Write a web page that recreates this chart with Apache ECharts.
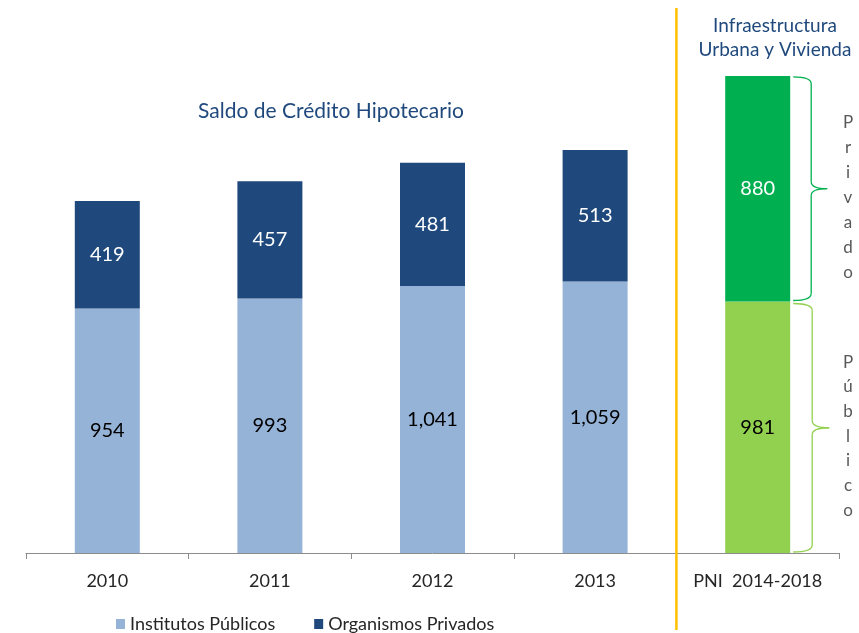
<!DOCTYPE html>
<html><head><meta charset="utf-8">
<script src="https://cdn.jsdelivr.net/npm/echarts@6/dist/echarts.min.js"></script>
<style>html,body{margin:0;padding:0;background:#fff}#c{width:859px;height:633px}</style>
</head><body><div id="c"></div>
<script>
const categories = ['2010', '2011', '2012', '2013', 'PNI  2014-2018'];
const institutosPublicos = [954, 993, 1041, 1059, '-'];
const organismosPrivados = [419, 457, 481, 513, '-'];
const pniPublico = ['-', '-', '-', '-', 981];
const pniPrivado = ['-', '-', '-', '-', 880];
const legendNames = ['Institutos Públicos', 'Organismos Privados'];
const braceLabels = ['Privado', 'Público'];

const FONT = "Lato, 'Liberation Sans', sans-serif";
const fmt = p => Number(p.value).toLocaleString('en-US');
function lbl(color) {
  return { show: true, position: 'inside', color: color, fontSize: 20, fontFamily: FONT, formatter: fmt };
}
const chart = echarts.init(document.getElementById('c'));
chart.setOption({
  animation: false,
  textStyle: { fontFamily: FONT },
  title: [
    { text: 'Saldo de Crédito Hipotecario', left: 326, top: 96, textAlign: 'center',
      textStyle: { color: '#1F497D', fontSize: 21, fontWeight: 'normal', fontFamily: FONT } },
    { text: 'Infraestructura\nUrbana y Vivienda', left: 770, top: 9, textAlign: 'center',
      textStyle: { color: '#1F497D', fontSize: 19, fontWeight: 'normal', fontFamily: FONT, lineHeight: 24 } }
  ],
  grid: { left: 26, right: 20, top: 10, bottom: 80 },
  legend: {
    data: legendNames, left: 111, top: 610, itemWidth: 9, itemHeight: 10, itemGap: 39,
    icon: 'rect', textStyle: { fontSize: 18, color: '#262626', fontFamily: FONT }
  },
  xAxis: {
    type: 'category', data: categories,
    axisLine: { lineStyle: { color: '#8C8C8C', width: 1 } },
    axisTick: { show: true, length: 6, lineStyle: { color: '#8C8C8C' } },
    axisLabel: { fontSize: 18, color: '#262626', margin: 19, fontFamily: FONT, interval: 0 }
  },
  yAxis: { type: 'value', min: 0, max: 2118, show: false, splitLine: { show: false } },
  series: [
    { name: legendNames[0], type: 'bar', stack: 's', barWidth: 65, data: institutosPublicos,
      itemStyle: { color: '#95B3D7' }, label: lbl('#000') },
    { name: legendNames[1], type: 'bar', stack: 's', barWidth: 65, data: organismosPrivados,
      itemStyle: { color: '#1F497D' }, label: lbl('#fff') },
    { name: 'Público', type: 'bar', stack: 's', barWidth: 65, data: pniPublico,
      itemStyle: { color: '#92D050' }, label: lbl('#000') },
    { name: 'Privado', type: 'bar', stack: 's', barWidth: 65, data: pniPrivado,
      itemStyle: { color: '#00B050' }, label: lbl('#fff') }
  ]
});

// annotations computed from the library's scales
const last = categories.length - 1;
const base = chart.convertToPixel({ gridIndex: 0 }, [last, 0]);
const mid1 = chart.convertToPixel({ gridIndex: 0 }, [last, pniPublico[last]]);
const top1 = chart.convertToPixel({ gridIndex: 0 }, [last, pniPublico[last] + pniPrivado[last]]);
const prev = chart.convertToPixel({ gridIndex: 0 }, [last - 1, 0]);
const divX = (prev[0] + base[0]) / 2;
const barRight = base[0] + 65 / 2;

function brace(x0, yTop, yBot, depth, tip, color) {
  const r = 7;
  const xv = x0 + depth;
  const ym = (yTop + yBot) / 2;
  const st = { stroke: color, fill: null, lineWidth: 1.3 };
  return [
    { type: 'bezierCurve', shape: { x1: x0, y1: yTop, cpx1: xv, cpy1: yTop, x2: xv, y2: yTop + r }, style: st },
    { type: 'line', shape: { x1: xv, y1: yTop + r, x2: xv, y2: ym - r }, style: st },
    { type: 'bezierCurve', shape: { x1: xv, y1: ym - r, cpx1: xv, cpy1: ym, x2: xv + tip, y2: ym }, style: st },
    { type: 'bezierCurve', shape: { x1: xv + tip, y1: ym, cpx1: xv, cpy1: ym, x2: xv, y2: ym + r }, style: st },
    { type: 'line', shape: { x1: xv, y1: ym + r, x2: xv, y2: yBot - r }, style: st },
    { type: 'bezierCurve', shape: { x1: xv, y1: yBot - r, cpx1: xv, cpy1: yBot, x2: x0, y2: yBot }, style: st }
  ];
}
function vert(s) { return s.split('').join('\n'); }

chart.setOption({
  graphic: [
    { type: 'line', shape: { x1: divX, y1: 8, x2: divX, y2: 630 },
      style: { stroke: '#FFC000', lineWidth: 2.5 }, z: 100 }
  ].concat(
    brace(barRight + 3, top1[1] + 1, mid1[1] - 1, 18, 16, '#00B050'),
    brace(barRight + 3, mid1[1] + 2, base[1] - 1, 19, 17, '#92D050'),
    [
      { type: 'text', x: 848, y: (top1[1] + mid1[1]) / 2 + 9,
        style: { text: vert(braceLabels[0]), fill: '#595959', fontSize: 17, lineHeight: 25,
          align: 'center', verticalAlign: 'middle', fontFamily: FONT } },
      { type: 'text', x: 848, y: (mid1[1] + base[1]) / 2 + 9,
        style: { text: vert(braceLabels[1]), fill: '#595959', fontSize: 17, lineHeight: 24.7,
          align: 'center', verticalAlign: 'middle', fontFamily: FONT } }
    ])
});
</script></body></html>
